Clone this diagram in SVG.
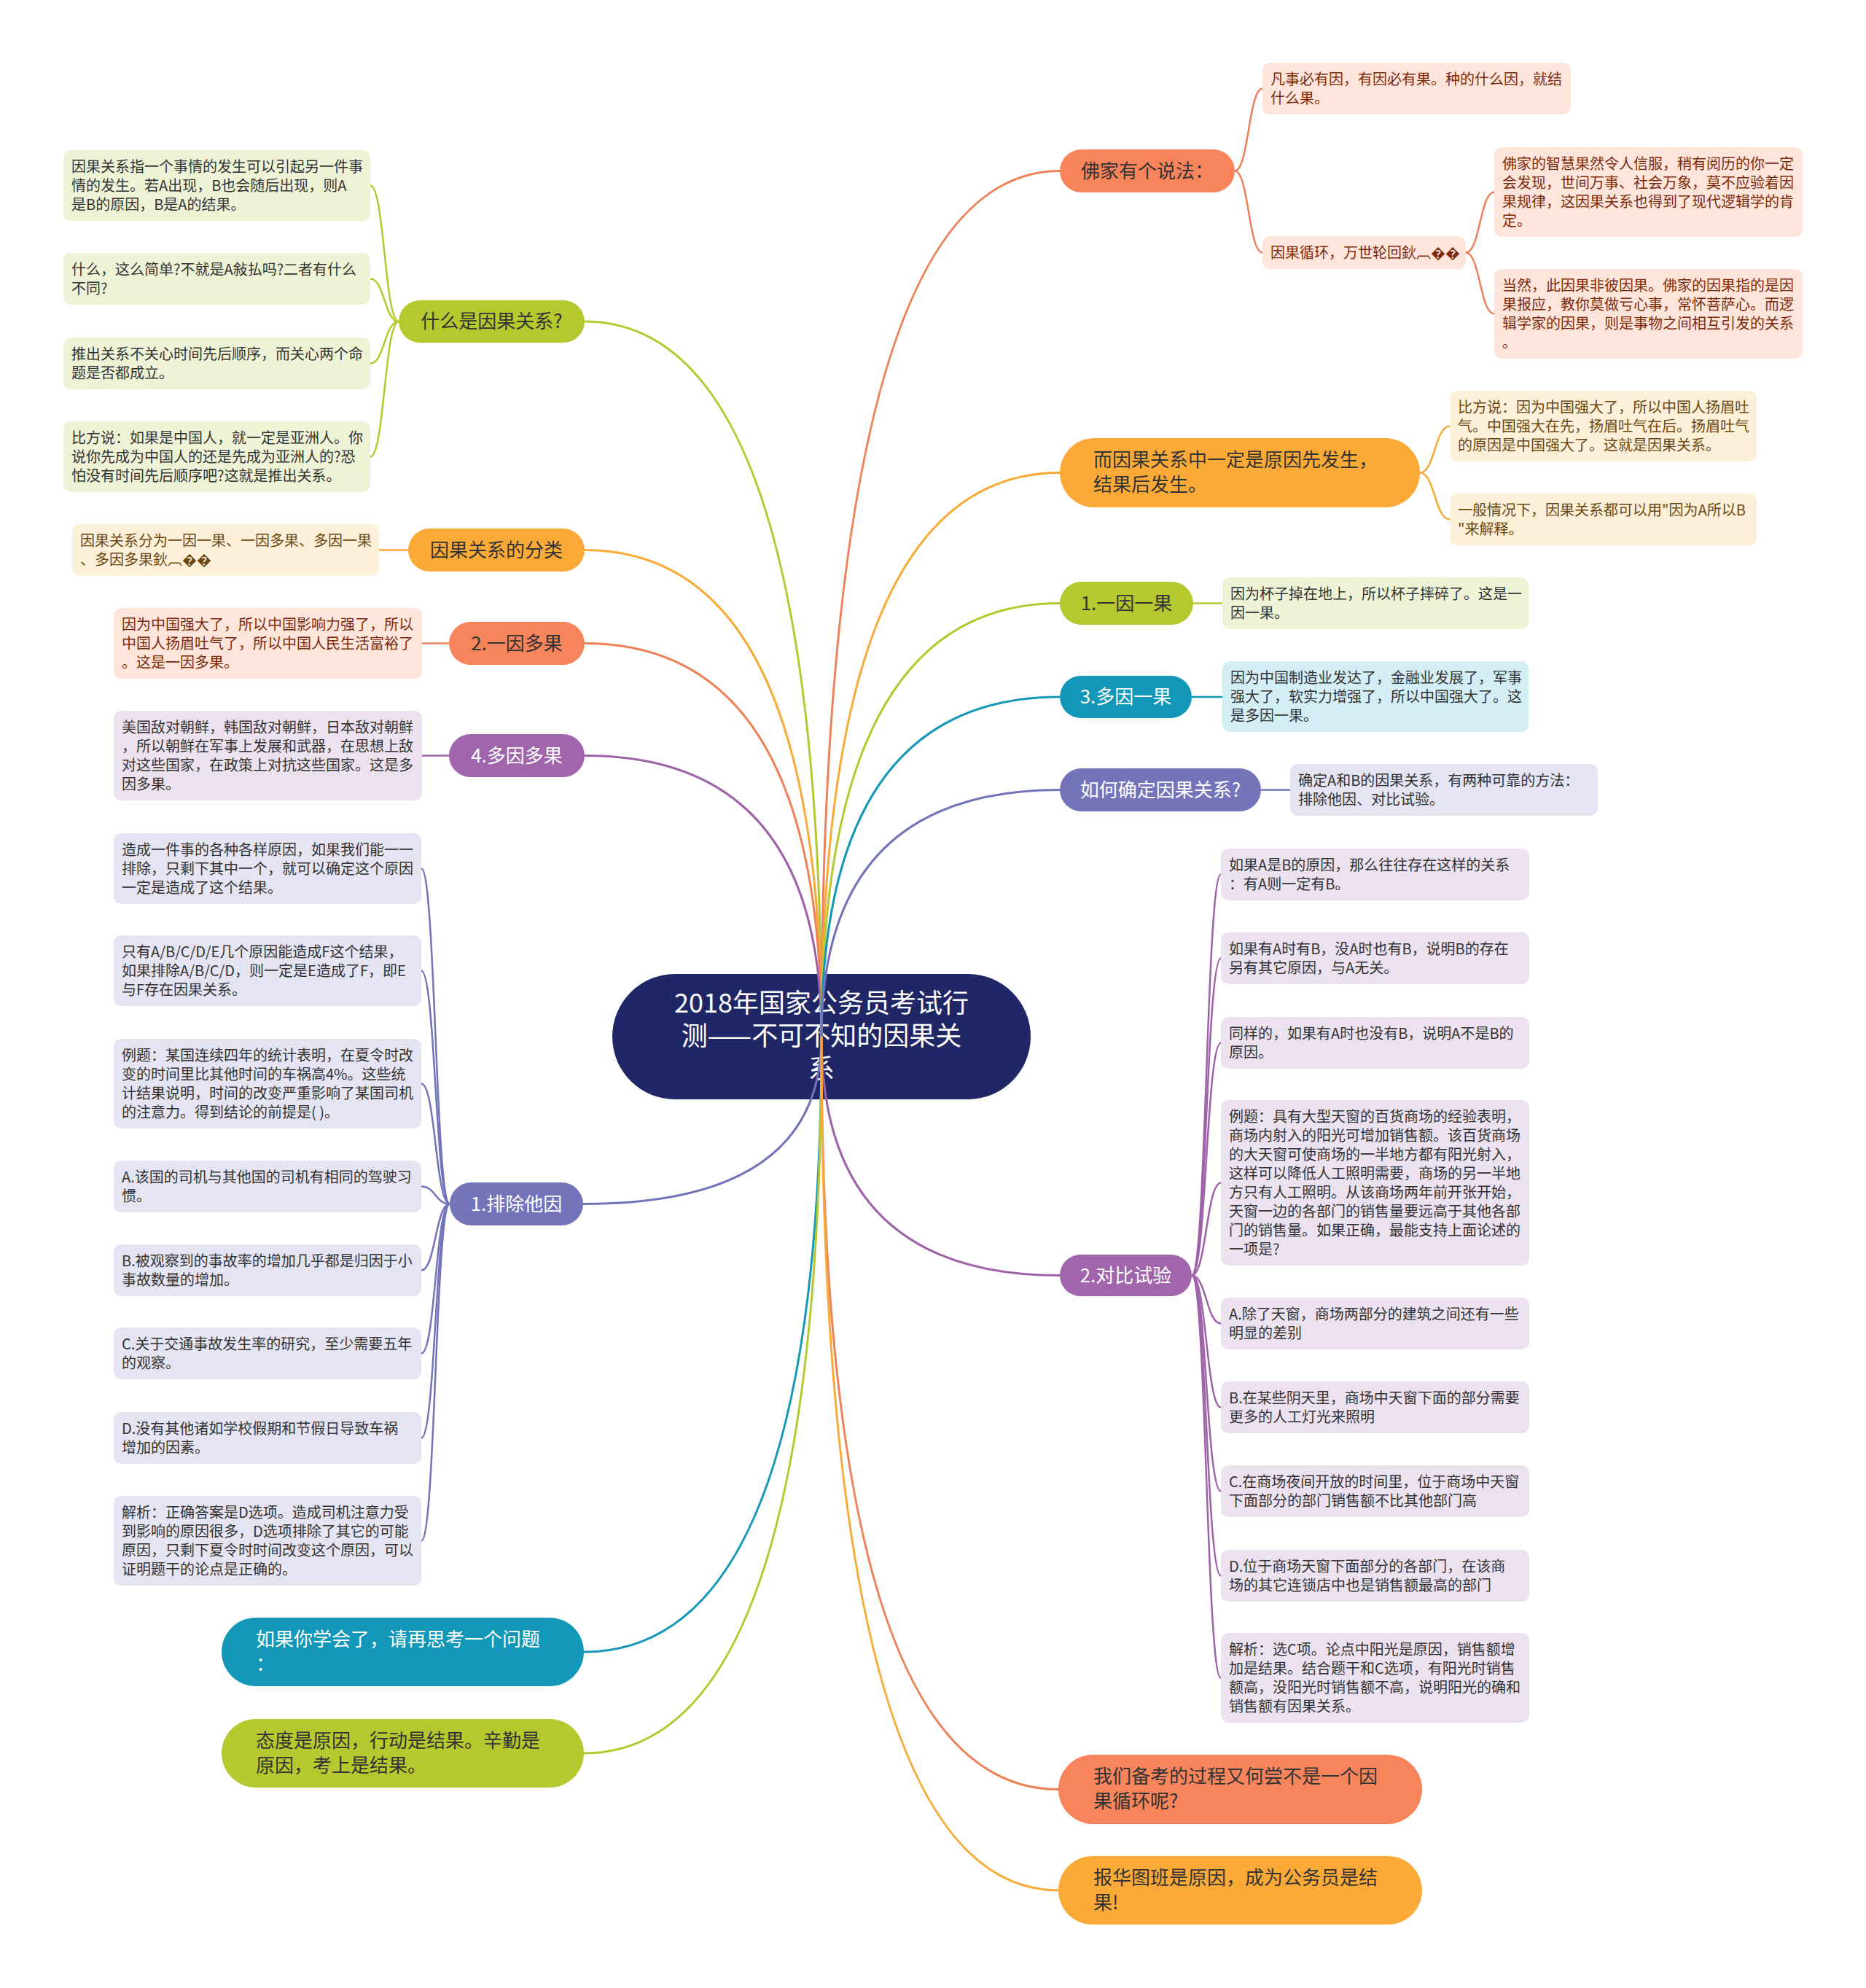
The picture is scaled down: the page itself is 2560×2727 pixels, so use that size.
<svg xmlns="http://www.w3.org/2000/svg" width="2560" height="2727" viewBox="0 0 2560 2727">
<style>
text{font-family:"Noto Sans CJK SC","Noto Sans",sans-serif}
.lf{font-size:20px;fill:#333}
.lo{font-size:20px;fill:#6a4610}
.ls{font-size:20px;fill:#7c2a0c}
.nd{font-size:26px;fill:#333}
.nw{font-size:26px;fill:#fff}
.mid{text-anchor:middle}
.ct{font-size:36px;fill:#fff;text-anchor:middle}
.c{fill:none;stroke-width:3}
.cl{fill:none;stroke-width:2.5}
.gG{stroke:#b5c92f}.gO{stroke:#f9a936}.gS{stroke:#ef8159}.gP{stroke:#9e62a9}.gB{stroke:#7373b9}.gT{stroke:#1597b8}
.fG{fill:#eff3d6}.fO{fill:#fdf0d9}.fS{fill:#fde5dc}.fP{fill:#ece2ef}.fB{fill:#e4e4f2}.fT{fill:#d4eef5}
.nG{fill:#b5c92f}.nO{fill:#fbaa37}.nS{fill:#f8845b}.nP{fill:#a065ab}.nB{fill:#7474ba}.nT{fill:#1397b8}
</style>
<rect width="2560" height="2727" fill="#fff"/>

<g id="center">
<rect x="840" y="1336" width="574" height="172" rx="86" fill="#1f2767"/>
<text class="ct" x="1127" y="1389">2018年国家公务员考试行</text>
<text class="ct" x="1127" y="1434">测——不可不知的因果关</text>
<text class="ct" x="1127" y="1479">系</text>
</g>

<g id="connectors">
<path class="c gG" d="M1127 1422 Q1127 441 802 441"/>
<path class="c gO" d="M1127 1422 Q1127 754.5 802 754.5"/>
<path class="c gS" d="M1127 1422 Q1127 882.5 802 882.5"/>
<path class="c gP" d="M1127 1422 Q1127 1036.5 802 1036.5"/>
<path class="c gS" d="M1127 1422 Q1127 234.5 1454 234.5"/>
<path class="c gO" d="M1127 1422 Q1127 648.5 1454 648.5"/>
<path class="c gG" d="M1127 1422 Q1127 827.5 1454 827.5"/>
<path class="c gT" d="M1127 1422 Q1127 956 1454 956"/>
<path class="c gB" d="M1127 1422 Q1127 1083.5 1454 1083.5"/>
<path class="c gB" d="M1127 1422 Q1127 1651.5 800 1651.5"/>
<path class="c gT" d="M1127 1422 Q1127 2266 801 2266"/>
<path class="c gG" d="M1127 1422 Q1127 2405 801 2405"/>
<path class="c gP" d="M1127 1422 Q1127 1749.5 1454 1749.5"/>
<path class="c gS" d="M1127 1422 Q1127 2454.5 1452 2454.5"/>
<path class="c gO" d="M1127 1422 Q1127 2593 1452 2593"/>

<path class="cl gG" d="M547 441 C527.5 441 527.5 254.5 508 254.5"/>
<path class="cl gG" d="M547 441 C527.5 441 527.5 382.5 508 382.5"/>
<path class="cl gG" d="M547 441 C527.5 441 527.5 498.5 508 498.5"/>
<path class="cl gG" d="M547 441 C527.5 441 527.5 626.5 508 626.5"/>
<path class="cl gO" d="M560 754.5 L520 754.5"/>
<path class="cl gS" d="M616 882.5 L579 882.5"/>
<path class="cl gP" d="M616 1036.5 L579 1036.5"/>
<path class="cl gB" d="M617 1651.5 C597.5 1651.5 597.5 1191.5 578 1191.5"/>
<path class="cl gB" d="M617 1651.5 C597.5 1651.5 597.5 1331.5 578 1331.5"/>
<path class="cl gB" d="M617 1651.5 C597.5 1651.5 597.5 1486.5 578 1486.5"/>
<path class="cl gB" d="M617 1651.5 C597.5 1651.5 597.5 1627.5 578 1627.5"/>
<path class="cl gB" d="M617 1651.5 C597.5 1651.5 597.5 1742.5 578 1742.5"/>
<path class="cl gB" d="M617 1651.5 C597.5 1651.5 597.5 1856.5 578 1856.5"/>
<path class="cl gB" d="M617 1651.5 C597.5 1651.5 597.5 1972.5 578 1972.5"/>
<path class="cl gB" d="M617 1651.5 C597.5 1651.5 597.5 2113.5 578 2113.5"/>

<path class="cl gS" d="M1694 234.5 C1713 234.5 1713 121.5 1732 121.5"/>
<path class="cl gS" d="M1694 234.5 C1713 234.5 1713 346.5 1732 346.5"/>
<path class="cl gS" d="M2011 346.5 C2030.5 346.5 2030.5 263.5 2050 263.5"/>
<path class="cl gS" d="M2011 346.5 C2030.5 346.5 2030.5 430.5 2050 430.5"/>
<path class="cl gO" d="M1948 648.5 C1968.5 648.5 1968.5 584.5 1989 584.5"/>
<path class="cl gO" d="M1948 648.5 C1968.5 648.5 1968.5 712.5 1989 712.5"/>
<path class="cl gG" d="M1637 827.5 L1677 827.5"/>
<path class="cl gT" d="M1635 956 L1677 956"/>
<path class="cl gB" d="M1730 1083.5 L1770 1083.5"/>
<path class="cl gP" d="M1635 1749.5 C1655 1749.5 1655 1199.5 1675 1199.5"/>
<path class="cl gP" d="M1635 1749.5 C1655 1749.5 1655 1314.5 1675 1314.5"/>
<path class="cl gP" d="M1635 1749.5 C1655 1749.5 1655 1430.5 1675 1430.5"/>
<path class="cl gP" d="M1635 1749.5 C1655 1749.5 1655 1622.5 1675 1622.5"/>
<path class="cl gP" d="M1635 1749.5 C1655 1749.5 1655 1815.5 1675 1815.5"/>
<path class="cl gP" d="M1635 1749.5 C1655 1749.5 1655 1930.5 1675 1930.5"/>
<path class="cl gP" d="M1635 1749.5 C1655 1749.5 1655 2045.5 1675 2045.5"/>
<path class="cl gP" d="M1635 1749.5 C1655 1749.5 1655 2161.5 1675 2161.5"/>
<path class="cl gP" d="M1635 1749.5 C1655 1749.5 1655 2301.5 1675 2301.5"/>
</g>

<!-- left main nodes -->
<g id="n-what">
<rect class="nG" x="547" y="412" width="255" height="58" rx="29"/>
<text class="nd mid" x="674.5" y="450">什么是因果关系?</text>
</g>
<g id="n-what-1"><rect class="fG" x="87" y="206" width="421" height="97" rx="10"/>
<text class="lf"><tspan x="98" y="236">因果关系指一个事情的发生可以引起另一件事</tspan><tspan x="98" y="262">情的发生。若A出现，B也会随后出现，则A</tspan><tspan x="98" y="288">是B的原因，B是A的结果。</tspan></text></g>
<g id="n-what-2"><rect class="fG" x="87" y="347" width="421" height="71" rx="10"/>
<text class="lf"><tspan x="98" y="377">什么，这么简单?不就是A敍払吗?二者有什么</tspan><tspan x="98" y="403">不同?</tspan></text></g>
<g id="n-what-3"><rect class="fG" x="87" y="463" width="421" height="71" rx="10"/>
<text class="lf"><tspan x="98" y="493">推出关系不关心时间先后顺序，而关心两个命</tspan><tspan x="98" y="519">题是否都成立。</tspan></text></g>
<g id="n-what-4"><rect class="fG" x="87" y="578" width="421" height="97" rx="10"/>
<text class="lf"><tspan x="98" y="608">比方说：如果是中国人，就一定是亚洲人。你</tspan><tspan x="98" y="634">说你先成为中国人的还是先成为亚洲人的?恐</tspan><tspan x="98" y="660">怕没有时间先后顺序吧?这就是推出关系。</tspan></text></g>

<g id="n-class">
<rect class="nO" x="560" y="725" width="242" height="59" rx="29.5"/>
<text class="nd mid" x="681" y="764">因果关系的分类</text>
</g>
<g id="n-class-1"><rect class="fO" x="99" y="719" width="421" height="71" rx="10"/>
<text class="lo"><tspan x="110" y="749">因果关系分为一因一果、一因多果、多因一果</tspan><tspan x="110" y="775">、多因多果鈥︹��</tspan></text></g>

<g id="n-one-many">
<rect class="nS" x="616" y="853" width="186" height="59" rx="29.5"/>
<text class="nd mid" x="709" y="892">2.一因多果</text>
</g>
<g id="n-one-many-1"><rect class="fS" x="156" y="834" width="423" height="97" rx="10"/>
<text class="ls"><tspan x="167" y="864">因为中国强大了，所以中国影响力强了，所以</tspan><tspan x="167" y="890">中国人扬眉吐气了，所以中国人民生活富裕了</tspan><tspan x="167" y="916">。这是一因多果。</tspan></text></g>

<g id="n-many-many">
<rect class="nP" x="616" y="1007" width="186" height="59" rx="29.5"/>
<text class="nw mid" x="709" y="1046">4.多因多果</text>
</g>
<g id="n-many-many-1"><rect class="fP" x="156" y="975" width="423" height="123" rx="10"/>
<text class="lf"><tspan x="167" y="1005">美国敌对朝鲜，韩国敌对朝鲜，日本敌对朝鲜</tspan><tspan x="167" y="1031">，所以朝鲜在军事上发展和武器，在思想上敌</tspan><tspan x="167" y="1057">对这些国家，在政策上对抗这些国家。这是多</tspan><tspan x="167" y="1083">因多果。</tspan></text></g>

<g id="n-exclude">
<rect class="nB" x="617" y="1622" width="183" height="59" rx="29.5"/>
<text class="nw mid" x="708.5" y="1661">1.排除他因</text>
</g>
<g id="n-exclude-1"><rect class="fB" x="156" y="1143" width="422" height="97" rx="10"/>
<text class="lf"><tspan x="167" y="1173">造成一件事的各种各样原因，如果我们能一一</tspan><tspan x="167" y="1199">排除，只剩下其中一个，就可以确定这个原因</tspan><tspan x="167" y="1225">一定是造成了这个结果。</tspan></text></g>
<g id="n-exclude-2"><rect class="fB" x="156" y="1283" width="422" height="97" rx="10"/>
<text class="lf"><tspan x="167" y="1313">只有A/B/C/D/E几个原因能造成F这个结果，</tspan><tspan x="167" y="1339">如果排除A/B/C/D，则一定是E造成了F，即E</tspan><tspan x="167" y="1365">与F存在因果关系。</tspan></text></g>
<g id="n-exclude-3"><rect class="fB" x="156" y="1425" width="422" height="123" rx="10"/>
<text class="lf"><tspan x="167" y="1455">例题：某国连续四年的统计表明，在夏令时改</tspan><tspan x="167" y="1481">变的时间里比其他时间的车祸高4%。这些统</tspan><tspan x="167" y="1507">计结果说明，时间的改变严重影响了某国司机</tspan><tspan x="167" y="1533">的注意力。得到结论的前提是( )。</tspan></text></g>
<g id="n-exclude-4"><rect class="fB" x="156" y="1592" width="422" height="71" rx="10"/>
<text class="lf"><tspan x="167" y="1622">A.该国的司机与其他国的司机有相同的驾驶习</tspan><tspan x="167" y="1648">惯。</tspan></text></g>
<g id="n-exclude-5"><rect class="fB" x="156" y="1707" width="422" height="71" rx="10"/>
<text class="lf"><tspan x="167" y="1737">B.被观察到的事故率的增加几乎都是归因于小</tspan><tspan x="167" y="1763">事故数量的增加。</tspan></text></g>
<g id="n-exclude-6"><rect class="fB" x="156" y="1821" width="422" height="71" rx="10"/>
<text class="lf"><tspan x="167" y="1851">C.关于交通事故发生率的研究，至少需要五年</tspan><tspan x="167" y="1877">的观察。</tspan></text></g>
<g id="n-exclude-7"><rect class="fB" x="156" y="1937" width="422" height="71" rx="10"/>
<text class="lf"><tspan x="167" y="1967">D.没有其他诸如学校假期和节假日导致车祸</tspan><tspan x="167" y="1993">增加的因素。</tspan></text></g>
<g id="n-exclude-8"><rect class="fB" x="156" y="2052" width="422" height="123" rx="10"/>
<text class="lf"><tspan x="167" y="2082">解析：正确答案是D选项。造成司机注意力受</tspan><tspan x="167" y="2108">到影响的原因很多，D选项排除了其它的可能</tspan><tspan x="167" y="2134">原因，只剩下夏令时时间改变这个原因，可以</tspan><tspan x="167" y="2160">证明题干的论点是正确的。</tspan></text></g>

<g id="n-think">
<rect class="nT" x="304" y="2219" width="497" height="94" rx="47"/>
<text class="nw"><tspan x="351" y="2258">如果你学会了，请再思考一个问题</tspan><tspan x="351" y="2292">：</tspan></text>
</g>
<g id="n-attitude">
<rect class="nG" x="304" y="2358" width="497" height="94" rx="47"/>
<text class="nd"><tspan x="351" y="2397">态度是原因，行动是结果。辛勤是</tspan><tspan x="351" y="2431">原因，考上是结果。</tspan></text>
</g>

<!-- right main nodes -->
<g id="n-buddha">
<rect class="nS" x="1454" y="205" width="240" height="59" rx="29.5"/>
<text class="nd mid" x="1574" y="244">佛家有个说法：</text>
</g>
<g id="n-buddha-1"><rect class="fS" x="1732" y="86" width="423" height="71" rx="10"/>
<text class="ls"><tspan x="1743" y="116">凡事必有因，有因必有果。种的什么因，就结</tspan><tspan x="1743" y="142">什么果。</tspan></text></g>
<g id="n-buddha-2"><rect class="fS" x="1732" y="324" width="279" height="45" rx="10"/>
<text class="ls" x="1743" y="354">因果循环，万世轮回鈥︹��</text></g>
<g id="n-buddha-2a"><rect class="fS" x="2050" y="202" width="423" height="123" rx="10"/>
<text class="ls"><tspan x="2061" y="232">佛家的智慧果然令人信服，稍有阅历的你一定</tspan><tspan x="2061" y="258">会发现，世间万事、社会万象，莫不应验着因</tspan><tspan x="2061" y="284">果规律，这因果关系也得到了现代逻辑学的肯</tspan><tspan x="2061" y="310">定。</tspan></text></g>
<g id="n-buddha-2b"><rect class="fS" x="2050" y="369" width="423" height="123" rx="10"/>
<text class="ls"><tspan x="2061" y="399">当然，此因果非彼因果。佛家的因果指的是因</tspan><tspan x="2061" y="425">果报应，教你莫做亏心事，常怀菩萨心。而逻</tspan><tspan x="2061" y="451">辑学家的因果，则是事物之间相互引发的关系</tspan><tspan x="2061" y="477">。</tspan></text></g>

<g id="n-order">
<rect class="nO" x="1454" y="601" width="494" height="95" rx="47.5"/>
<text class="nd"><tspan x="1500" y="640">而因果关系中一定是原因先发生，</tspan><tspan x="1500" y="674">结果后发生。</tspan></text>
</g>
<g id="n-order-1"><rect class="fO" x="1989" y="536" width="421" height="97" rx="10"/>
<text class="lo"><tspan x="2000" y="566">比方说：因为中国强大了，所以中国人扬眉吐</tspan><tspan x="2000" y="592">气。中国强大在先，扬眉吐气在后。扬眉吐气</tspan><tspan x="2000" y="618">的原因是中国强大了。这就是因果关系。</tspan></text></g>
<g id="n-order-2"><rect class="fO" x="1989" y="677" width="421" height="71" rx="10"/>
<text class="lo"><tspan x="2000" y="707">一般情况下，因果关系都可以用"因为A所以B</tspan><tspan x="2000" y="733">"来解释。</tspan></text></g>

<g id="n-one-one">
<rect class="nG" x="1454" y="798" width="183" height="59" rx="29.5"/>
<text class="nd mid" x="1545.5" y="837">1.一因一果</text>
</g>
<g id="n-one-one-1"><rect class="fG" x="1677" y="792" width="420" height="71" rx="10"/>
<text class="lf"><tspan x="1688" y="822">因为杯子掉在地上，所以杯子摔碎了。这是一</tspan><tspan x="1688" y="848">因一果。</tspan></text></g>

<g id="n-many-one">
<rect class="nT" x="1454" y="927" width="181" height="58" rx="29"/>
<text class="nw mid" x="1544.5" y="965">3.多因一果</text>
</g>
<g id="n-many-one-1"><rect class="fT" x="1677" y="907" width="420" height="97" rx="10"/>
<text class="lf"><tspan x="1688" y="937">因为中国制造业发达了，金融业发展了，军事</tspan><tspan x="1688" y="963">强大了，软实力增强了，所以中国强大了。这</tspan><tspan x="1688" y="989">是多因一果。</tspan></text></g>

<g id="n-how">
<rect class="nB" x="1454" y="1054" width="276" height="59" rx="29.5"/>
<text class="nw mid" x="1592" y="1093">如何确定因果关系?</text>
</g>
<g id="n-how-1"><rect class="fB" x="1770" y="1048" width="422" height="71" rx="10"/>
<text class="lf"><tspan x="1781" y="1078">确定A和B的因果关系，有两种可靠的方法：</tspan><tspan x="1781" y="1104">排除他因、对比试验。</tspan></text></g>

<g id="n-compare">
<rect class="nP" x="1454" y="1721" width="181" height="57" rx="28.5"/>
<text class="nw mid" x="1544.5" y="1759">2.对比试验</text>
</g>
<g id="n-compare-1"><rect class="fP" x="1675" y="1164" width="423" height="71" rx="10"/>
<text class="lf"><tspan x="1686" y="1194">如果A是B的原因，那么往往存在这样的关系</tspan><tspan x="1686" y="1220">：有A则一定有B。</tspan></text></g>
<g id="n-compare-2"><rect class="fP" x="1675" y="1279" width="423" height="71" rx="10"/>
<text class="lf"><tspan x="1686" y="1309">如果有A时有B，没A时也有B，说明B的存在</tspan><tspan x="1686" y="1335">另有其它原因，与A无关。</tspan></text></g>
<g id="n-compare-3"><rect class="fP" x="1675" y="1395" width="423" height="71" rx="10"/>
<text class="lf"><tspan x="1686" y="1425">同样的，如果有A时也没有B，说明A不是B的</tspan><tspan x="1686" y="1451">原因。</tspan></text></g>
<g id="n-compare-4"><rect class="fP" x="1675" y="1509" width="423" height="227" rx="10"/>
<text class="lf"><tspan x="1686" y="1539">例题：具有大型天窗的百货商场的经验表明，</tspan><tspan x="1686" y="1565">商场内射入的阳光可增加销售额。该百货商场</tspan><tspan x="1686" y="1591">的大天窗可使商场的一半地方都有阳光射入，</tspan><tspan x="1686" y="1617">这样可以降低人工照明需要，商场的另一半地</tspan><tspan x="1686" y="1643">方只有人工照明。从该商场两年前开张开始，</tspan><tspan x="1686" y="1669">天窗一边的各部门的销售量要远高于其他各部</tspan><tspan x="1686" y="1695">门的销售量。如果正确，最能支持上面论述的</tspan><tspan x="1686" y="1721">一项是?</tspan></text></g>
<g id="n-compare-5"><rect class="fP" x="1675" y="1780" width="423" height="71" rx="10"/>
<text class="lf"><tspan x="1686" y="1810">A.除了天窗，商场两部分的建筑之间还有一些</tspan><tspan x="1686" y="1836">明显的差别</tspan></text></g>
<g id="n-compare-6"><rect class="fP" x="1675" y="1895" width="423" height="71" rx="10"/>
<text class="lf"><tspan x="1686" y="1925">B.在某些阴天里，商场中天窗下面的部分需要</tspan><tspan x="1686" y="1951">更多的人工灯光来照明</tspan></text></g>
<g id="n-compare-7"><rect class="fP" x="1675" y="2010" width="423" height="71" rx="10"/>
<text class="lf"><tspan x="1686" y="2040">C.在商场夜间开放的时间里，位于商场中天窗</tspan><tspan x="1686" y="2066">下面部分的部门销售额不比其他部门高</tspan></text></g>
<g id="n-compare-8"><rect class="fP" x="1675" y="2126" width="423" height="71" rx="10"/>
<text class="lf"><tspan x="1686" y="2156">D.位于商场天窗下面部分的各部门，在该商</tspan><tspan x="1686" y="2182">场的其它连锁店中也是销售额最高的部门</tspan></text></g>
<g id="n-compare-9"><rect class="fP" x="1675" y="2240" width="423" height="123" rx="10"/>
<text class="lf"><tspan x="1686" y="2270">解析：选C项。论点中阳光是原因，销售额增</tspan><tspan x="1686" y="2296">加是结果。结合题干和C选项，有阳光时销售</tspan><tspan x="1686" y="2322">额高，没阳光时销售额不高，说明阳光的确和</tspan><tspan x="1686" y="2348">销售额有因果关系。</tspan></text></g>

<g id="n-prep">
<rect class="nS" x="1452" y="2407" width="499" height="95" rx="47.5"/>
<text class="nd"><tspan x="1500" y="2446">我们备考的过程又何尝不是一个因</tspan><tspan x="1500" y="2480">果循环呢?</tspan></text>
</g>
<g id="n-huatu">
<rect class="nO" x="1452" y="2546" width="499" height="94" rx="47"/>
<text class="nd"><tspan x="1500" y="2585">报华图班是原因，成为公务员是结</tspan><tspan x="1500" y="2619">果!</tspan></text>
</g>
</svg>
